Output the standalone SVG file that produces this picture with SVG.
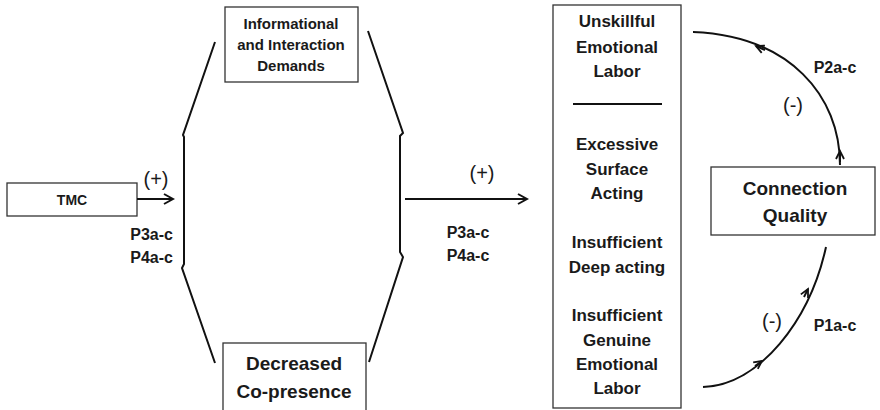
<svg xmlns="http://www.w3.org/2000/svg" width="880" height="410" viewBox="0 0 880 410">
<style>
.box{fill:#fff;stroke:#333;stroke-width:1.3}
.ln{fill:none;stroke:#111;stroke-width:2}
.t{font-family:"Liberation Sans",Arial,sans-serif;font-weight:bold;fill:#1a1a1a;text-anchor:middle}
.s{font-family:"Liberation Sans",Arial,sans-serif;font-weight:normal;fill:#1a1a1a;text-anchor:middle}
</style>
<defs>
<marker id="arr" markerWidth="12" markerHeight="12" refX="10" refY="6" orient="auto" markerUnits="userSpaceOnUse">
<path d="M1,1 L10,6 L1,11" fill="none" stroke="#111" stroke-width="2"/>
</marker>
<marker id="chev" markerWidth="12" markerHeight="12" refX="9" refY="6" orient="auto" markerUnits="userSpaceOnUse">
<path d="M1,2 L9,6 L1,10" fill="none" stroke="#111" stroke-width="1.8"/>
</marker>
</defs>
<rect width="880" height="410" fill="#fff"/>

<g id="tmc">
<rect class="box" x="7" y="183" width="130" height="33"/>
<text class="t" x="72" y="205" font-size="14">TMC</text>
</g>

<g id="info">
<rect class="box" x="225" y="7" width="133" height="75"/>
<text class="t" x="291" y="29" font-size="15">Informational</text>
<text class="t" x="291" y="50" font-size="15">and Interaction</text>
<text class="t" x="291" y="71" font-size="15">Demands</text>
</g>

<g id="copresence">
<rect class="box" x="223" y="343" width="143" height="70"/>
<text class="t" x="294" y="370" font-size="19">Decreased</text>
<text class="t" x="294" y="398" font-size="19">Co-presence</text>
</g>

<g id="emotional">
<rect class="box" x="553" y="5" width="128" height="403"/>
<text class="t" x="617" y="27" font-size="17">Unskillful</text>
<text class="t" x="617" y="53" font-size="17">Emotional</text>
<text class="t" x="617" y="77" font-size="17">Labor</text>
<line x1="573" y1="104" x2="662" y2="104" stroke="#111" stroke-width="2"/>
<text class="t" x="617" y="150" font-size="17">Excessive</text>
<text class="t" x="617" y="175" font-size="17">Surface</text>
<text class="t" x="617" y="199" font-size="17">Acting</text>
<text class="t" x="617" y="248" font-size="17">Insufficient</text>
<text class="t" x="617" y="273" font-size="17">Deep acting</text>
<text class="t" x="617" y="321" font-size="17">Insufficient</text>
<text class="t" x="617" y="346" font-size="17">Genuine</text>
<text class="t" x="617" y="370" font-size="17">Emotional</text>
<text class="t" x="617" y="394" font-size="17">Labor</text>
</g>

<g id="quality">
<rect class="box" x="711" y="167" width="164" height="68"/>
<text class="t" x="795" y="195" font-size="19">Connection</text>
<text class="t" x="795" y="222" font-size="19">Quality</text>
</g>

<g id="connectors">
<line class="ln" x1="137" y1="199" x2="173" y2="199" marker-end="url(#arr)"/>
<text class="s" x="156" y="186" font-size="20">(+)</text>
<text class="t" x="173" y="240" font-size="16" style="text-anchor:end">P3a-c</text>
<text class="t" x="173" y="263" font-size="16" style="text-anchor:end">P4a-c</text>

<polyline class="ln" points="215,42 183,135 184,137 184,264 182,268 215,363"/>
<polyline class="ln" points="368,31 403,133 400,136 400,252 403,257 369,362"/>

<line class="ln" x1="405" y1="199" x2="527" y2="199" marker-end="url(#arr)"/>
<text class="s" x="482" y="180" font-size="20">(+)</text>
<text class="t" x="468" y="238" font-size="16">P3a-c</text>
<text class="t" x="468" y="261" font-size="16">P4a-c</text>

<path class="ln" d="M840,165 C840,96 790,36 693,32"/>
<path class="ln" d="M840,162 L840,151" marker-end="url(#chev)"/>
<path class="ln" d="M765,50 L756,46" marker-end="url(#chev)"/>
<text class="t" x="835" y="73" font-size="16">P2a-c</text>
<text class="s" x="793" y="112" font-size="20">(-)</text>

<path class="ln" d="M703,387 C760,385 810,320 826,247"/>
<path class="ln" d="M755,366 L762,361" marker-end="url(#chev)"/>
<path class="ln" d="M804,297 L808,289" marker-end="url(#chev)"/>
<text class="s" x="772" y="328" font-size="20">(-)</text>
<text class="t" x="835" y="331" font-size="16">P1a-c</text>
</g>
</svg>
